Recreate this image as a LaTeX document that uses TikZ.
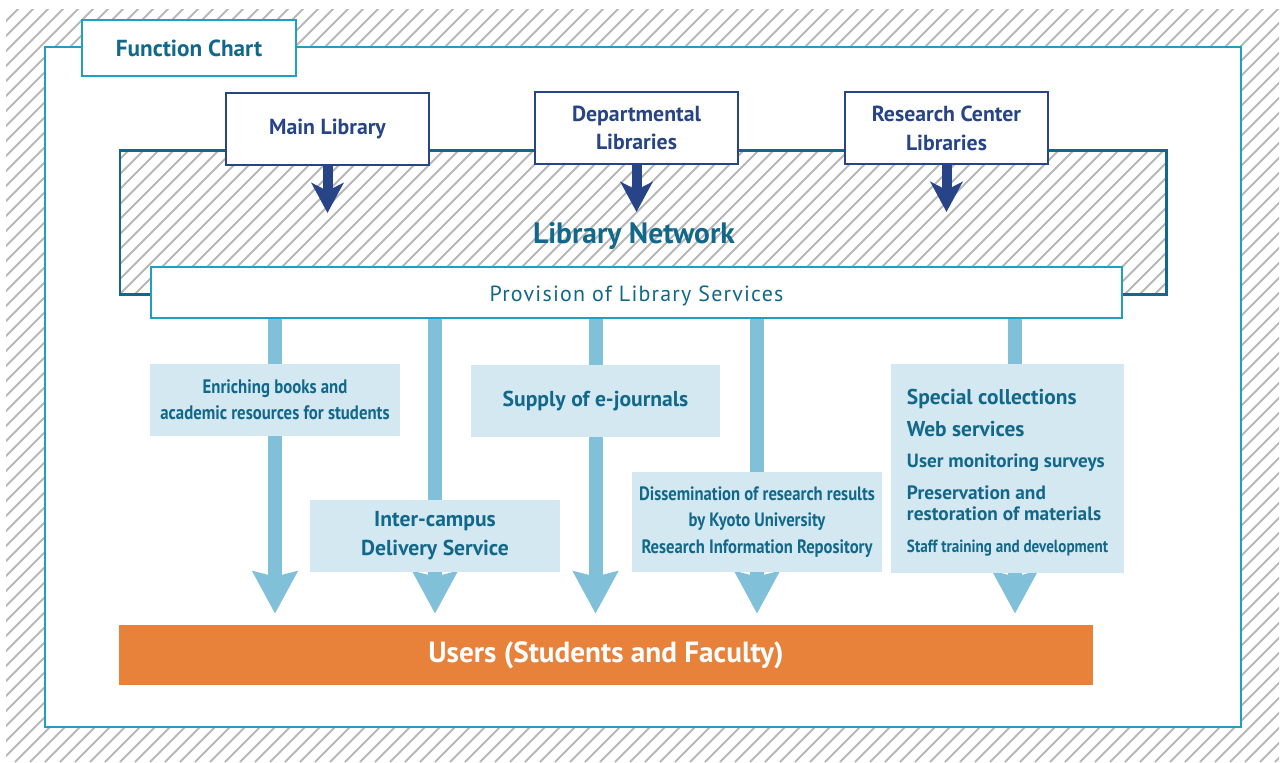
\documentclass[tikz,border=0pt]{standalone}
\usepackage{fontspec}
\setmainfont{PT Sans}
\newfontfamily\narrowfont[FakeStretch=0.86]{PT Sans}
\newfontfamily\spacedfont[LetterSpace=5.5]{PT Sans}
\usetikzlibrary{arrows.meta}

\definecolor{chartteal}{RGB}{18,104,138}
\definecolor{chartnavy}{RGB}{38,68,134}
\definecolor{chartcyan}{RGB}{32,160,192}
\definecolor{boxblue}{RGB}{211,232,240}
\definecolor{arrowblue}{RGB}{128,192,216}
\definecolor{hatchgray}{RGB}{184,184,184}
\definecolor{useorange}{RGB}{232,130,58}

\newcommand{\unitpx}{0.02cm}

\pgfdeclarelayer{back}
\pgfdeclarelayer{mid}
\pgfsetlayers{back,mid,main}

\tikzset{
  hatch/.style={hatchgray, line width=1.1pt},
  titlebox/.style={draw=chartcyan, line width=1.2pt, fill=white, text=chartteal,
    font=\bfseries\fontsize{13.2}{15}\selectfont, inner sep=0pt},
  libbox/.style={draw=chartnavy, line width=1.1pt, fill=white, text=chartnavy,
    font=\bfseries\fontsize{12.4}{16.4}\selectfont, align=center, inner sep=0pt,
    minimum width=203*\unitpx, minimum height=72*\unitpx},
  svcbox/.style={fill=boxblue, text=chartteal, align=center, inner sep=0pt,
    font=\bfseries\fontsize{12.3}{16.4}\selectfont},
  dkarrow/.style={chartnavy, line width=0.2cm,
    -{Stealth[length=0.6cm, width=0.64cm, inset=0.16cm]}},
  lbarrow/.style={arrowblue, line width=0.28cm,
    -{Stealth[length=0.84cm, width=0.88cm, inset=0.1cm]}}
}

\begin{document}
\begin{tikzpicture}[x=0.02cm, y=-0.02cm]

    \useasboundingbox (0,0) rectangle (1284,762);

    % --- Background: hatched frame, white panel, network band ---
    \begin{pgfonlayer}{back}
        \begin{scope}
            \clip (6,9) rectangle (1279,762);
            \foreach \k in {-765,-750,...,1290}
                \draw[hatch] (\k,762) -- ++(770,-770);
        \end{scope}
        \draw[chartcyan, line width=1.4pt, fill=white] (45,47) rectangle (1241,727);
        \begin{scope}
            \clip (120,150) rectangle (1166,294);
            \fill[white] (120,150) rectangle (1166,294);
            \foreach \k in {-150,-135,...,1170}
                \draw[hatch] (\k,294) -- ++(150,-150);
        \end{scope}
        \draw[chartteal, line width=1.7pt] (120,150) rectangle (1166,294);
    \end{pgfonlayer}

    % --- Title ---
    \node[titlebox, minimum width=214*\unitpx, minimum height=56*\unitpx]
        (title) at (189,48) {Function Chart};

    % --- Libraries ---
    \node[libbox] (mainlib) at (327.5,129) {Main Library};
    \node[libbox] (deptlib) at (636.5,128) {Departmental\\Libraries};
    \node[libbox] (reslib) at (946.5,128) {Research Center\\Libraries};

    % Network label
    \node[text=chartteal, font=\bfseries\fontsize{16.8}{18}\selectfont]
        (network) at (634,236) {Library Network};

    % Provision bar
    \node[draw=chartcyan, line width=1.1pt, fill=white, text=chartteal,
        font=\spacedfont\fontsize{12.5}{14}\selectfont, inner sep=0pt,
        text height=10.5pt, text depth=0pt,
        minimum width=971*\unitpx, minimum height=51*\unitpx]
        (prov) at (636.5,292.5) {Provision of Library Services};

    % --- Services ---
    \node[svcbox, font=\narrowfont\bfseries\fontsize{11.1}{14.7}\selectfont,
        minimum width=250*\unitpx, minimum height=72*\unitpx]
        (enrich) at (275,400) {Enriching books and\\academic resources for students};
    \node[svcbox, minimum width=250*\unitpx, minimum height=72*\unitpx]
        (intercampus) at (435,536) {Inter-campus\\Delivery Service};
    \node[svcbox, minimum width=249*\unitpx, minimum height=72*\unitpx]
        (ejournal) at (595.5,401) {Supply of e-journals};
    \node[svcbox, font=\narrowfont\bfseries\fontsize{11}{15}\selectfont,
        minimum width=250*\unitpx, minimum height=100*\unitpx]
        (repository) at (757,522) {Dissemination of research results\\by Kyoto University\\Research Information Repository};
    \node[svcbox, align=left, font=\bfseries\fontsize{12.2}{12}\selectfont,
        minimum width=233*\unitpx, minimum height=209*\unitpx]
        (special) at (1007.5,468.5) {%
        \rule{0pt}{13.5pt}Special collections\\[6pt]
        Web services\\[6pt]
        \fontsize{10.9}{12}\selectfont User monitoring surveys\\[6pt]
        \fontsize{11}{11.9}\selectfont Preservation and\\
        \fontsize{11}{11.9}\selectfont restoration of materials\\[6pt]
        \narrowfont\bfseries\fontsize{10}{12}\selectfont Staff training and development};

    % --- Users ---
    \node[fill=useorange, text=white, font=\bfseries\fontsize{16.6}{18}\selectfont,
        inner sep=0pt, minimum width=974*\unitpx, minimum height=60*\unitpx]
        (users) at (606,655) {Users (Students and Faculty)};

    \coordinate (col5) at (1015,318);

    % --- Arrows ---
    \begin{pgfonlayer}{mid}
        \draw[dkarrow] (mainlib.south) -- ++(0,47);
        \draw[dkarrow] (deptlib.south) -- ++(0,47);
        \draw[dkarrow] (reslib.south) -- ++(0,47);
        \foreach \n in {enrich,intercampus,ejournal,repository,col5}
            \draw[lbarrow, shorten >=11*\unitpx] (prov.south -| \n) -- (users.north -| \n);
    \end{pgfonlayer}

\end{tikzpicture}
\end{document}
